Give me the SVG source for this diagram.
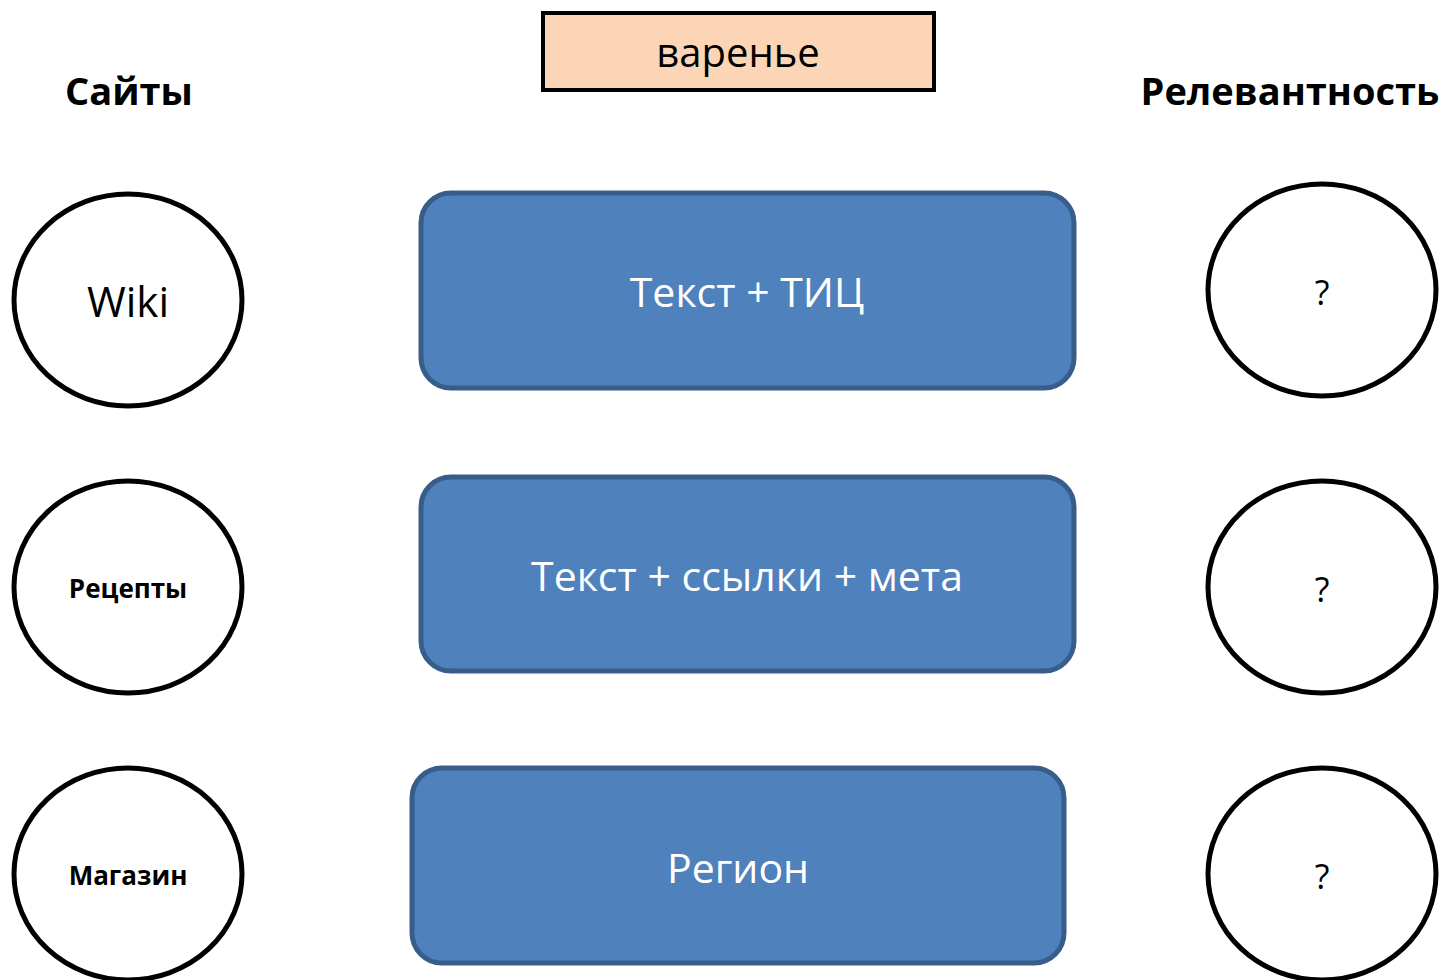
<svg xmlns="http://www.w3.org/2000/svg" width="1444" height="980" viewBox="0 0 1444 980">
<style>
.circ{fill:#fff;stroke:#000;stroke-width:5}
.blue{fill:#4F81BD;stroke:#385D8A;stroke-width:5}
.t{font-family:"Open Sans","Noto Sans","DejaVu Sans",sans-serif;text-anchor:middle}
.w{fill:#fff;font-size:41px}
.h{font-weight:bold;font-size:38px}
.s{font-weight:bold;font-size:26px}
</style>
<rect width="1444" height="980" fill="#fff"/>
<g id="query">
<rect x="543" y="13" width="391" height="77" fill="#FBD5B5" stroke="#000" stroke-width="4"/>
<text class="t" x="738" y="67" font-size="40">варенье</text>
</g>
<g id="hdr-sites"><text class="t h" x="129" y="105">Сайты</text></g>
<g id="hdr-rel"><text class="t h" x="1290" y="105">Релевантность</text></g>
<g id="box1">
<rect class="blue" x="421" y="193" width="653" height="195" rx="30"/>
<text class="t w" x="747" y="307">Текст + ТИЦ</text>
</g>
<g id="box2">
<rect class="blue" x="421" y="477" width="653" height="194" rx="30"/>
<text class="t w" x="747" y="591">Текст + ссылки + мета</text>
</g>
<g id="box3">
<rect class="blue" x="412" y="768" width="652" height="195" rx="30"/>
<text class="t w" x="738" y="883">Регион</text>
</g>
<g id="site-wiki">
<ellipse class="circ" cx="128" cy="300" rx="114" ry="106"/>
<text class="t" x="128" y="317" font-size="42">Wiki</text>
</g>
<g id="site-recipes">
<ellipse class="circ" cx="128" cy="587" rx="114" ry="106"/>
<text class="t s" x="128" y="598">Рецепты</text>
</g>
<g id="site-shop">
<ellipse class="circ" cx="128" cy="874" rx="114" ry="106"/>
<text class="t s" x="128" y="885">Магазин</text>
</g>
<g id="rel1">
<ellipse class="circ" cx="1322" cy="290" rx="114" ry="106"/>
<text class="t" x="1322" y="305" font-size="34">?</text>
</g>
<g id="rel2">
<ellipse class="circ" cx="1322" cy="587" rx="114" ry="106"/>
<text class="t" x="1322" y="602" font-size="34">?</text>
</g>
<g id="rel3">
<ellipse class="circ" cx="1322" cy="874" rx="114" ry="106"/>
<text class="t" x="1322" y="889" font-size="34">?</text>
</g>
<g id="connectors"></g>
</svg>
